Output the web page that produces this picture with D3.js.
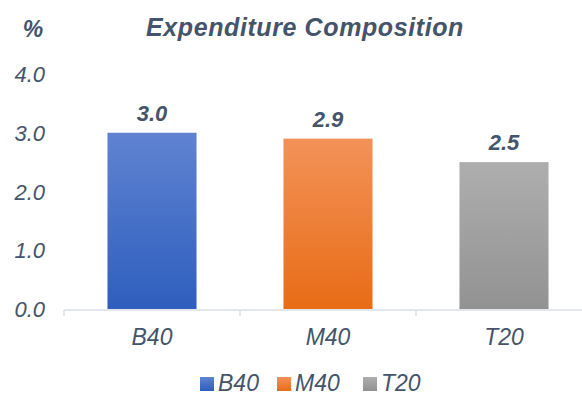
<!DOCTYPE html>
<meta charset="utf-8">
<script src="https://d3js.org/d3.v7.min.js"></script>
<style>
    body { margin: 0; background: #fff; }
    text { font-family: "Liberation Sans", Arial, sans-serif; fill: #44546A; font-style: italic; }
</style>
<div id="chart"></div>
<script>
    const categories = ["B40", "M40", "T20"];
    const values = [3.0, 2.9, 2.5];
    const yTicks = [0, 1, 2, 3, 4];
    const topColors = ["#5F83D1", "#F39259", "#AEAEAE"];
    const bottomColors = ["#2E5EBE", "#E86C16", "#929292"];

    const width = 582, height = 396;

    const svg = d3.select("#chart").append("svg")
        .attr("width", width)
        .attr("height", height);

    const defs = svg.append("defs");
    categories.forEach(function (c, i) {
        const g = defs.append("linearGradient")
            .attr("id", "grad" + i)
            .attr("x1", 0).attr("y1", 0).attr("x2", 0).attr("y2", 1);
        g.append("stop").attr("offset", "0%").attr("stop-color", topColors[i]);
        g.append("stop").attr("offset", "100%").attr("stop-color", bottomColors[i]);
    });

    const step = 176;
    const x0 = 64, x1 = x0 + step * categories.length;

    const x = d3.scaleBand()
        .domain(categories)
        .range([x0, x1])
        .paddingInner(0.494)
        .paddingOuter(0.247);

    const y = d3.scaleLinear()
        .domain([0, 4])
        .range([309, 74]);

    // bars
    svg.selectAll("rect.bar")
        .data(values)
        .enter()
        .append("rect")
        .attr("class", "bar")
        .attr("x", function (d, i) { return x(categories[i]); })
        .attr("y", function (d) { return y(d); })
        .attr("width", x.bandwidth())
        .attr("height", function (d) { return y(0) - y(d); })
        .attr("fill", function (d, i) { return "url(#grad" + i + ")"; });

    // x axis line and ticks
    svg.append("line")
        .attr("x1", x0).attr("x2", x1)
        .attr("y1", y(0) + 1).attr("y2", y(0) + 1)
        .attr("stroke", "#DADFE6").attr("stroke-width", 1.5);
    svg.selectAll("line.tick")
        .data(d3.range(categories.length + 1))
        .enter()
        .append("line")
        .attr("class", "tick")
        .attr("x1", function (d) { return x0 + d * step; })
        .attr("x2", function (d) { return x0 + d * step; })
        .attr("y1", y(0) + 1)
        .attr("y2", y(0) + 7)
        .attr("stroke", "#DADFE6").attr("stroke-width", 1.5);

    // category labels
    svg.selectAll("text.cat")
        .data(categories)
        .enter()
        .append("text")
        .attr("x", function (d) { return x(d) + x.bandwidth() / 2; })
        .attr("y", 345)
        .attr("text-anchor", "middle")
        .style("font-size", "23px")
        .text(function (d) { return d; });

    // y tick labels
    svg.selectAll("text.ytick")
        .data(yTicks)
        .enter()
        .append("text")
        .attr("x", 45)
        .attr("y", function (d) { return y(d) + 8; })
        .attr("text-anchor", "end")
        .style("font-size", "22px")
        .text(function (d) { return d.toFixed(1); });

    // value labels
    svg.selectAll("text.val")
        .data(values)
        .enter()
        .append("text")
        .attr("x", function (d, i) { return x(categories[i]) + x.bandwidth() / 2; })
        .attr("y", function (d) { return y(d) - 12; })
        .attr("text-anchor", "middle")
        .style("font-size", "22px")
        .style("font-weight", "bold")
        .text(function (d) { return d.toFixed(1); });

    // title and unit
    svg.append("text")
        .attr("x", 305).attr("y", 36)
        .attr("text-anchor", "middle")
        .style("font-size", "25px")
        .style("font-weight", "bold")
        .style("letter-spacing", "0.6px")
        .text("Expenditure Composition");
    svg.append("text")
        .attr("x", 33).attr("y", 37)
        .attr("text-anchor", "middle")
        .style("font-size", "23px")
        .style("font-weight", "bold")
        .text("%");

    // legend
    const legendX = [200, 277, 363];
    const legend = svg.selectAll("g.legend")
        .data(categories)
        .enter()
        .append("g")
        .attr("class", "legend")
        .attr("transform", function (d, i) { return "translate(" + legendX[i] + ",377)"; });
    legend.append("rect")
        .attr("width", 14).attr("height", 14)
        .attr("fill", function (d, i) { return "url(#grad" + i + ")"; });
    legend.append("text")
        .attr("x", 18).attr("y", 14)
        .style("font-size", "23px")
        .text(function (d) { return d; });
</script>
